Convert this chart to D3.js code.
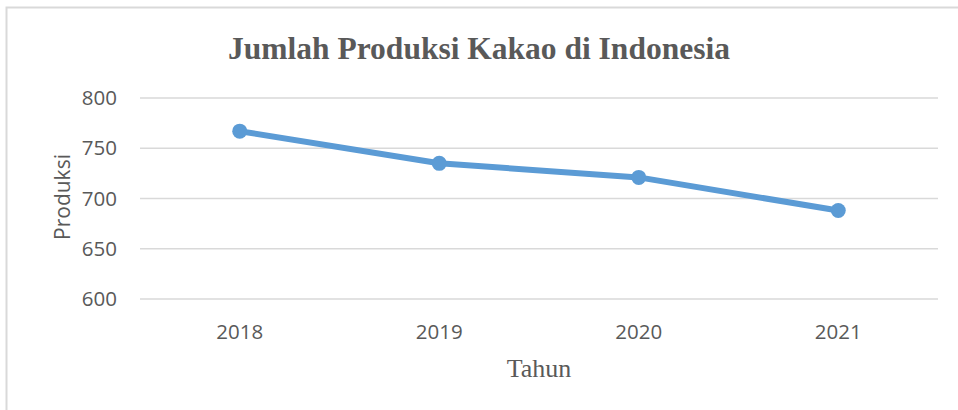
<!DOCTYPE html>
<html>
<head>
<meta charset="utf-8">
<script src="https://cdnjs.cloudflare.com/ajax/libs/d3/7.8.5/d3.min.js"></script>
<style>
  body { margin: 0; background: #fff; }
  svg text { fill: #595959; }
</style>
</head>
<body>
<svg id="chart"></svg>
<script>
// data
var years = ["2018", "2019", "2020", "2021"];
var produksi = [767, 735, 721, 688];
var yTicks = [600, 650, 700, 750, 800];

var width = 958, height = 410;
var margin = {top: 98, right: 20, bottom: 111, left: 140};

var svg = d3.select("#chart")
    .attr("width", width)
    .attr("height", height);

// outer frame (right and bottom run off the page)
svg.append("rect")
    .attr("x", 6.5).attr("y", 7.5)
    .attr("width", width + 20).attr("height", height + 20)
    .attr("fill", "none")
    .attr("stroke", "#d9d9d9")
    .attr("stroke-width", 2);

var xScale = d3.scaleBand()
    .domain(years)
    .range([margin.left, 938]);

var yScale = d3.scaleLinear()
    .domain([600, 800])
    .range([height - margin.bottom, margin.top]);

// gridlines
svg.append("g")
    .selectAll("line")
    .data(yTicks)
    .enter().append("line")
    .attr("x1", margin.left)
    .attr("x2", 938)
    .attr("y1", d => yScale(d))
    .attr("y2", d => yScale(d))
    .attr("stroke", "#d9d9d9")
    .attr("stroke-width", 1.5);

// y axis
var yAxis = d3.axisLeft(yScale)
    .tickValues(yTicks)
    .tickSize(0)
    .tickPadding(23);

var gy = svg.append("g")
    .attr("transform", "translate(" + margin.left + ",0)")
    .call(yAxis);
gy.select(".domain").remove();
gy.selectAll("text")
    .style("font-family", "'Open Sans', sans-serif")
    .style("font-size", "20.5px");

// x axis
var xAxis = d3.axisBottom(xScale)
    .tickSize(0)
    .tickPadding(25);

var gx = svg.append("g")
    .attr("transform", "translate(0," + yScale(600) + ")")
    .call(xAxis);
gx.select(".domain").remove();
gx.selectAll("text")
    .style("font-family", "'Open Sans', sans-serif")
    .style("font-size", "20.5px");

// line
var line = d3.line()
    .x((d, i) => xScale(years[i]) + xScale.bandwidth() / 2)
    .y(d => yScale(d));

svg.append("path")
    .datum(produksi)
    .attr("fill", "none")
    .attr("stroke", "#5b9bd5")
    .attr("stroke-width", 6)
    .attr("stroke-linejoin", "round")
    .attr("d", line);

svg.selectAll(".dot")
    .data(produksi)
    .enter().append("circle")
    .attr("class", "dot")
    .attr("cx", (d, i) => xScale(years[i]) + xScale.bandwidth() / 2)
    .attr("cy", d => yScale(d))
    .attr("r", 7.5)
    .attr("fill", "#5b9bd5");

// title
svg.append("text")
    .attr("x", 479)
    .attr("y", 59)
    .attr("text-anchor", "middle")
    .style("font-family", "'Liberation Serif', 'Times New Roman', serif")
    .style("font-weight", "bold")
    .style("font-size", "31.5px")
    .text("Jumlah Produksi Kakao di Indonesia");

// axis titles
svg.append("text")
    .attr("x", 539)
    .attr("y", 377)
    .attr("text-anchor", "middle")
    .style("font-family", "'Liberation Serif', 'Times New Roman', serif")
    .style("font-size", "26px")
    .text("Tahun");

svg.append("text")
    .attr("transform", "translate(70,197) rotate(-90)")
    .attr("text-anchor", "middle")
    .style("font-family", "'Open Sans', sans-serif")
    .style("font-size", "21px")
    .text("Produksi");
</script>
</body>
</html>
